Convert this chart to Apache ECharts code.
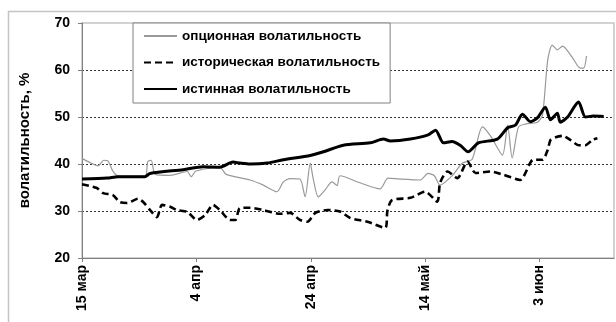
<!DOCTYPE html>
<html>
<head>
<meta charset="utf-8">
<script src="https://cdn.jsdelivr.net/npm/echarts@6/dist/echarts.min.js"></script>
<style>
  html, body { margin: 0; padding: 0; background: #fff; }
  #chart { width: 616px; height: 322px; }
</style>
</head>
<body>
<div id="chart"></div>
<script>
// Days counted from 15 March; values in percent.
const xTickLabels = ['15 мар', '4 апр', '24 апр', '14 май', '3 июн'];
const seriesNames = ['опционная волатильность', 'историческая волатильность', 'истинная волатильность'];

// Option-implied volatility
const optionDays = [0, 1.4, 2.8, 3.8, 4.5, 5.4, 6.3, 11.0, 11.5, 12.1, 12.8, 15.4, 18.4, 19.1, 19.9, 24.1, 25.2, 29.4, 31.7, 34.1, 35.2, 36.4, 38.1, 39.0, 39.9, 40.4, 41.3, 42.5, 43.7, 44.6, 45.1, 48.6, 52.1, 53.5, 55.6, 59.1, 60.5, 61.6, 62.6, 64.7, 66.5, 68.2, 70.0, 71.4, 73.5, 74.4, 75.2, 76.3, 77.5, 79.6, 80.5, 81.4, 82.2, 83.1, 84.0, 85.7, 87.1, 87.7, 88.2];
const optionVol = [41.2, 40.3, 39.6, 40.8, 40.7, 38.5, 37.5, 37.4, 40.5, 40.8, 37.8, 37.6, 38.4, 37.3, 38.5, 39.3, 37.8, 36.6, 35.5, 34.1, 36.2, 36.9, 36.8, 33.0, 40.2, 37.0, 33.0, 34.5, 36.2, 35.4, 37.5, 36.0, 34.7, 37.0, 36.8, 36.6, 38.0, 37.5, 35.5, 37.5, 40.2, 41.0, 47.9, 46.0, 41.9, 48.3, 41.3, 47.9, 48.5, 48.9, 50.4, 62.0, 65.3, 64.3, 65.1, 62.7, 60.4, 60.4, 63.0];

// Historical volatility
const histDays = [0, 2.6, 3.7, 5.4, 6.6, 7.9, 9.8, 10.7, 11.9, 13.1, 14.0, 15.4, 16.6, 18.4, 20.1, 21.5, 22.9, 24.1, 25.9, 26.8, 27.6, 29.4, 31.7, 34.6, 36.4, 38.1, 39.4, 40.8, 42.9, 45.1, 46.9, 49.9, 53.0, 53.4, 54.2, 57.4, 60.0, 62.1, 62.6, 63.9, 65.6, 67.4, 68.8, 71.4, 73.7, 76.6, 78.9, 80.5, 81.4, 81.9, 82.8, 84.0, 85.4, 86.8, 88.0, 89.2, 90.1];
const histVol = [35.7, 34.9, 33.8, 33.4, 31.9, 31.7, 32.6, 31.9, 30.2, 28.7, 31.3, 30.9, 30.2, 29.8, 28.1, 29.1, 31.3, 30.2, 28.1, 28.1, 30.6, 30.7, 30.2, 29.4, 29.6, 28.1, 27.7, 29.6, 30.2, 29.9, 28.5, 27.7, 26.4, 30.1, 32.3, 32.8, 34.1, 32.0, 36.0, 38.4, 37.0, 40.5, 38.1, 38.4, 37.7, 36.6, 40.9, 40.9, 43.0, 45.1, 45.7, 46.0, 45.1, 44.0, 44.0, 45.1, 45.5];

// True (realised) volatility
const trueDays = [0, 4.4, 6.3, 11.0, 11.9, 17.7, 21.2, 24.1, 26.4, 27.6, 29.4, 32.4, 35.2, 39.9, 42.2, 45.7, 50.4, 52.7, 53.9, 57.4, 60.5, 61.8, 63.2, 64.7, 66.1, 67.5, 69.3, 72.6, 74.4, 75.8, 77.0, 78.4, 79.6, 81.0, 81.9, 83.1, 83.6, 84.9, 86.8, 88.0, 89.4, 91.2];
const trueVol = [36.8, 37.0, 37.3, 37.3, 38.0, 38.8, 39.4, 39.3, 40.4, 40.2, 40.0, 40.2, 40.9, 41.8, 42.6, 44.0, 44.5, 45.3, 44.9, 45.3, 46.2, 47.2, 44.5, 44.8, 44.0, 42.6, 44.5, 45.3, 47.7, 48.3, 50.6, 49.0, 49.8, 52.1, 49.4, 50.8, 48.9, 50.0, 53.2, 50.0, 50.2, 50.1];

const zip = (xs, ys) => xs.map((x, i) => [x, ys[i]]);
const FONT = '"Liberation Sans", Arial, sans-serif';

const chart = echarts.init(document.getElementById('chart'), null, { renderer: 'canvas' });
chart.setOption({
  animation: false,
  backgroundColor: '#fff',
  graphic: [{
    type: 'rect',
    silent: true,
    z: -10,
    shape: { x: 8.5, y: 11.5, width: 700, height: 400 },
    style: { fill: 'none', stroke: '#c4c4c4', lineWidth: 1.5 }
  }],
  grid: {
    left: 82, top: 23, width: 532, height: 235,
    show: true, borderColor: '#c4c4c4', borderWidth: 1.5, backgroundColor: 'transparent'
  },
  legend: {
    orient: 'vertical',
    left: 133, top: 23,
    padding: [6, 10, 7, 10],
    itemGap: 12.5,
    itemWidth: 33, itemHeight: 14,
    backgroundColor: '#fff',
    borderColor: '#808080', borderWidth: 1,
    itemStyle: { color: 'rgba(0,0,0,0)', borderWidth: 0, opacity: 0 },
    textStyle: { fontFamily: FONT, fontWeight: 'bold', fontSize: 13.5, color: '#000' },
    data: seriesNames,
    z: 10
  },
  xAxis: {
    type: 'value',
    min: 0, max: 93, interval: 20,
    axisLine: { lineStyle: { color: '#808080', width: 1 } },
    axisTick: { show: true, length: 4, lineStyle: { color: '#808080' } },
    splitLine: { show: false },
    axisLabel: {
      rotate: 90, margin: 7,
      showMaxLabel: false,
      fontFamily: FONT, fontWeight: 'bold', fontSize: 14, color: '#000',
      formatter: v => (v % 20 === 0 && xTickLabels[v / 20]) ? xTickLabels[v / 20] : ''
    }
  },
  yAxis: {
    type: 'value',
    min: 20, max: 70, interval: 10,
    name: 'волатильность, %',
    nameLocation: 'middle', nameGap: 50,
    nameTextStyle: { fontFamily: FONT, fontWeight: 'bold', fontSize: 15, color: '#000' },
    axisLine: { show: true, lineStyle: { color: '#808080', width: 1 } },
    axisTick: { show: true, length: 4, lineStyle: { color: '#808080' } },
    axisLabel: { margin: 12, fontFamily: FONT, fontWeight: 'bold', fontSize: 14, color: '#000' },
    splitLine: {
      show: true, showMinLine: false, showMaxLine: false,
      lineStyle: { color: '#333', type: [2, 2], width: 1 }
    }
  },
  series: [
    {
      name: seriesNames[0], type: 'line', symbol: 'none', smooth: 0.25,
      data: zip(optionDays, optionVol),
      lineStyle: { color: '#999', width: 1.2 },
      itemStyle: { color: '#999' }, z: 2
    },
    {
      name: seriesNames[1], type: 'line', symbol: 'none', smooth: 0.25,
      data: zip(histDays, histVol),
      lineStyle: { color: '#000', width: 2.6, type: [7, 4] },
      itemStyle: { color: '#000' }, z: 3
    },
    {
      name: seriesNames[2], type: 'line', symbol: 'none', smooth: 0.25,
      data: zip(trueDays, trueVol),
      lineStyle: { color: '#000', width: 3 },
      itemStyle: { color: '#000' }, z: 4
    }
  ]
});
</script>
</body>
</html>
